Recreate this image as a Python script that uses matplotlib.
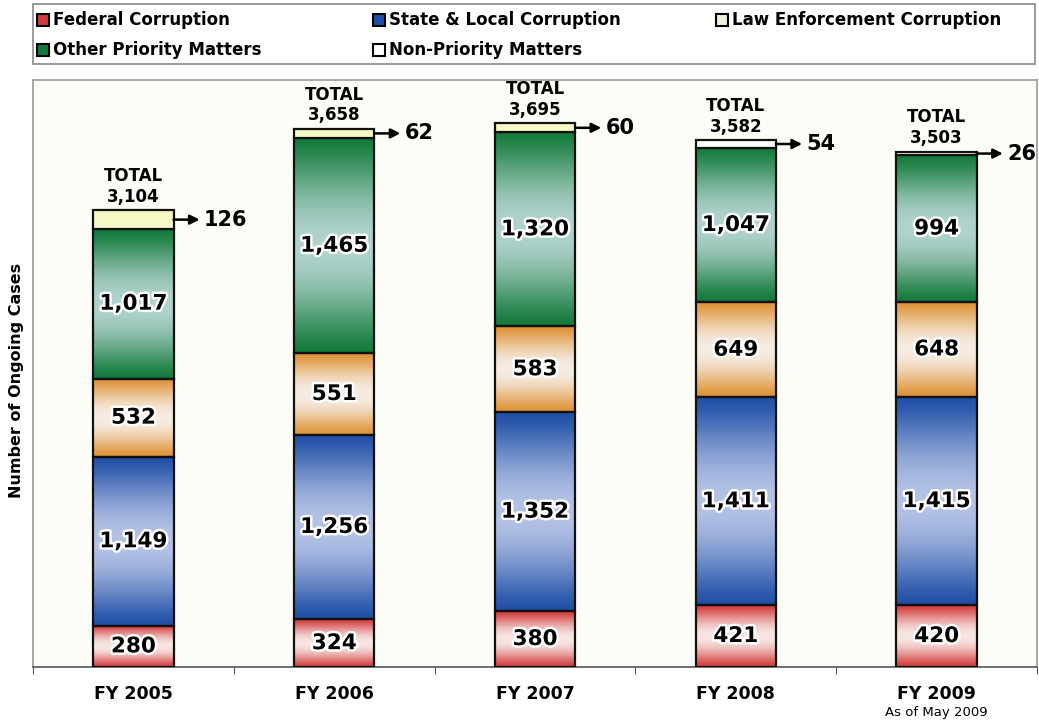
import numpy as np
import matplotlib
matplotlib.use("Agg")
import matplotlib.pyplot as plt
from matplotlib.patches import Rectangle
import matplotlib.patheffects as pe

# data
years = ["FY 2005", "FY 2006", "FY 2007", "FY 2008", "FY 2009"]
federal = [280, 324, 380, 421, 420]
state_local = [1149, 1256, 1352, 1411, 1415]
law_enf = [532, 551, 583, 649, 648]
other_priority = [1017, 1465, 1320, 1047, 994]
non_priority = [126, 62, 60, 54, 26]
totals = [3104, 3658, 3695, 3582, 3503]
legend_labels = ["Federal Corruption", "State & Local Corruption",
                 "Law Enforcement Corruption", "Other Priority Matters",
                 "Non-Priority Matters"]

# (dark, light) pairs for the shaded segments
shades = {
    "federal": ("#d23c3c", "#f7e6e3"),
    "state": ("#1f4fa6", "#b4c2e6"),
    "law": ("#de9235", "#f6ece2"),
    "other": ("#137a3a", "#b0d3cd"),
}
np_colors = ["#f6f8c6", "#f6f8c6", "#f6f8c6", "#ffffff", "#ffffff"]

W, H = 1039, 725
fig = plt.figure(figsize=(W / 100, H / 100), dpi=100)
fig.patch.set_facecolor("white")
ax = fig.add_axes([33 / W, 1 - 667 / H, (1037 - 33) / W, (667 - 80) / H])
ax.set_facecolor("#fdfdf7")
ax.set_xlim(-0.5, 4.5)
ax.set_ylim(0, 3990)

bw = 0.4
t = np.linspace(0, 1, 200)
mix = np.sin(np.pi * t) ** 1.3


def grad_segment(x, y0, y1, dark, light):
    d = np.array(matplotlib.colors.to_rgb(dark))
    l = np.array(matplotlib.colors.to_rgb(light))
    img = d[None, :] * (1 - mix[:, None]) + l[None, :] * mix[:, None]
    ax.imshow(img[:, None, :], extent=[x - bw / 2, x + bw / 2, y0, y1],
              origin="lower", aspect="auto", zorder=2, interpolation="bilinear")
    ax.add_patch(Rectangle((x - bw / 2, y0), bw, y1 - y0, fill=False,
                           ec="#111111", lw=1.6, zorder=3))


glow = [pe.withStroke(linewidth=3.5, foreground="white")]
for i in range(len(years)):
    bottom = 0
    for key, val in zip(["federal", "state", "law", "other"],
                        [federal[i], state_local[i], law_enf[i], other_priority[i]]):
        grad_segment(i, bottom, bottom + val, *shades[key])
        ax.text(i, bottom + val / 2, f"{val:,}", ha="center", va="center",
                fontsize=15.5, fontweight="heavy", color="black",
                path_effects=glow, zorder=5)
        bottom += val
    # non-priority segment
    ax.add_patch(Rectangle((i - bw / 2, bottom), bw, non_priority[i],
                           fc=np_colors[i], ec="#111111", lw=1.6, zorder=3))
    ymid = bottom + non_priority[i] / 2
    ax.annotate("", xy=(i + bw / 2 + 0.13, ymid), xytext=(i + bw / 2, ymid),
                arrowprops=dict(arrowstyle="-|>", color="black", lw=1.8,
                                mutation_scale=14, shrinkA=0, shrinkB=0),
                annotation_clip=False, zorder=4)
    ax.text(i + bw / 2 + 0.15, ymid, str(non_priority[i]), ha="left",
            va="center", fontsize=15, fontweight="bold", clip_on=False)
    ax.text(i, totals[i] + 30, f"TOTAL\n{totals[i]:,}", ha="center",
            va="bottom", fontsize=12, fontweight="bold", linespacing=1.2,
            zorder=5)

ax.set_yticks([])
ax.set_xticks([-0.5, 0.5, 1.5, 2.5, 3.5, 4.5])
ax.set_xticklabels([])
ax.tick_params(axis="x", direction="out", length=5, color="#555555")
for i, lab in enumerate(years):
    ax.text(i, -0.03, lab, transform=ax.get_xaxis_transform(), ha="center",
            va="top", fontsize=12.5, fontweight="bold")
ax.text(4, -0.066, "As of May 2009", transform=ax.get_xaxis_transform(),
        ha="center", va="top", fontsize=9.5)
for s in ["left", "top", "right"]:
    ax.spines[s].set_color("#9a9a9a")
    ax.spines[s].set_linewidth(1.2)
ax.spines["bottom"].set_color("#555555")
ax.spines["bottom"].set_linewidth(1.2)

fig.text(17 / W, 1 - 380 / H, "Number of Ongoing Cases", rotation=90,
         ha="center", va="center", fontsize=11.5, fontweight="bold")

# legend drawn by hand
fig.patches.append(Rectangle((33 / W, 1 - 64 / H), (1035 - 33) / W, 60 / H,
                             transform=fig.transFigure, fill=False,
                             ec="#8a8a8a", lw=1.2))
icon_cols = [shades["federal"][0], shades["state"][0], "#f1f1d8",
             shades["other"][0], "#ffffff"]
icon_pos = [(37, 20), (373, 20), (716, 20), (37, 50), (373, 50)]
for lab, col, (px, py) in zip(legend_labels, icon_cols, icon_pos):
    fig.patches.append(Rectangle((px / W, 1 - (py + 6) / H), 12 / W, 12 / H,
                                 transform=fig.transFigure, fc=col,
                                 ec="black", lw=1.5))
    fig.text((px + 16) / W, 1 - py / H, lab, ha="left", va="center",
             fontsize=12, fontweight="bold")

fig.savefig("out.png", dpi=100)
